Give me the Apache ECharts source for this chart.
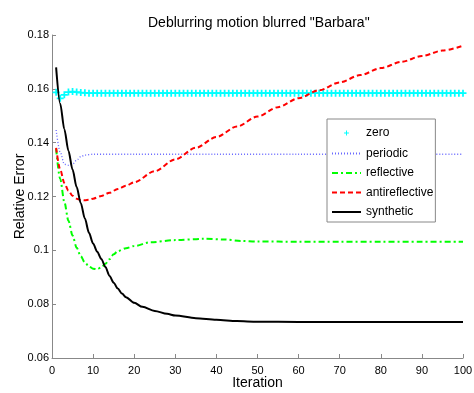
<!DOCTYPE html>
<html>
<head>
<meta charset="utf-8">
<script src="https://cdn.jsdelivr.net/npm/echarts@6/dist/echarts.min.js"></script>
<style>
html,body{margin:0;padding:0;background:#fff;}
#c{width:474px;height:393px;}
</style>
</head>
<body>
<div id="c"></div>
<script>
var titleText = 'Deblurring motion blurred "Barbara"';
var xTicks = [0, 10, 20, 30, 40, 50, 60, 70, 80, 90, 100];
var yTicks = [0.06, 0.08, 0.1, 0.12, 0.14, 0.16, 0.18];
var seriesNames = ['zero', 'periodic', 'reflective', 'antireflective', 'synthetic'];

// zero: one value per iteration 1..100
var zeroX = [];
for (var i = 1; i <= 100; i++) zeroX.push(i);
var zeroY = [0.1587, 0.1565, 0.1578, 0.1588, 0.1590, 0.1588, 0.1586, 0.1585, 0.1584, 0.1584,
  0.1584, 0.1584, 0.1584, 0.1584, 0.1584, 0.1584, 0.1584, 0.1584, 0.1584, 0.1584,
  0.1584, 0.1584, 0.1584, 0.1584, 0.1584, 0.1584, 0.1584, 0.1584, 0.1584, 0.1584,
  0.1584, 0.1584, 0.1584, 0.1584, 0.1584, 0.1584, 0.1584, 0.1584, 0.1584, 0.1584,
  0.1584, 0.1584, 0.1584, 0.1584, 0.1584, 0.1584, 0.1584, 0.1584, 0.1584, 0.1584,
  0.1584, 0.1584, 0.1584, 0.1584, 0.1584, 0.1584, 0.1584, 0.1584, 0.1584, 0.1584,
  0.1584, 0.1584, 0.1584, 0.1584, 0.1584, 0.1584, 0.1584, 0.1584, 0.1584, 0.1584,
  0.1584, 0.1584, 0.1584, 0.1584, 0.1584, 0.1584, 0.1584, 0.1584, 0.1584, 0.1584,
  0.1584, 0.1584, 0.1584, 0.1584, 0.1584, 0.1584, 0.1584, 0.1584, 0.1584, 0.1584,
  0.1584, 0.1584, 0.1584, 0.1584, 0.1584, 0.1584, 0.1584, 0.1584, 0.1584, 0.1584];

var periodicX = [1, 2, 3, 4, 5, 6, 7, 8, 10, 20, 40, 60, 80, 100];
var periodicY = [0.1447, 0.1365, 0.1320, 0.1316, 0.1320, 0.1335, 0.1348, 0.1354, 0.1357, 0.1357, 0.1357, 0.1357, 0.1357, 0.1357];

var reflectiveX = [1, 2, 3, 4, 5, 6, 7, 8, 9, 10, 11, 12, 13, 14, 15, 16, 18, 20, 24, 30, 37, 42, 46, 50, 60, 70, 80, 90, 100];
var reflectiveY = [0.1378, 0.1265, 0.1180, 0.1110, 0.1055, 0.1010, 0.0978, 0.0955, 0.0940, 0.0932, 0.0930, 0.0937, 0.0950, 0.0967, 0.0985, 0.0997, 0.1008, 0.1016, 0.1030, 0.1038, 0.1043, 0.1040, 0.1035, 0.1033, 0.1032, 0.1032, 0.1032, 0.1032, 0.1032];

var antiX = [1, 2, 3, 4, 5, 6, 7, 8, 9, 10, 12, 14, 16, 18, 20, 25, 30, 35, 40, 45, 50, 55, 60, 65, 70, 75, 80, 85, 90, 95, 100];
var antiY = [0.1381, 0.1300, 0.1250, 0.1222, 0.1203, 0.1192, 0.1187, 0.1186, 0.1188, 0.1192, 0.1202, 0.1214, 0.1228, 0.1240, 0.1253, 0.1294, 0.1338, 0.1381, 0.1421, 0.1460, 0.1497, 0.1532, 0.1565, 0.1595, 0.1624, 0.1651, 0.1677, 0.1700, 0.1722, 0.1742, 0.1760];

var syntheticX = [1, 2, 3, 4, 5, 6, 7, 8, 9, 10, 11, 12, 13, 14, 15, 16, 17, 18, 20, 22, 25, 28, 30, 35, 40, 45, 50, 60, 70, 80, 90, 100];
var syntheticY = [0.1680, 0.1545, 0.1450, 0.1370, 0.1300, 0.1235, 0.1175, 0.1118, 0.1065, 0.1025, 0.0995, 0.0968, 0.0938, 0.0905, 0.0880, 0.0858, 0.0840, 0.0826, 0.0805, 0.0790, 0.0775, 0.0764, 0.0758, 0.0748, 0.0742, 0.0737, 0.0735, 0.0734, 0.0734, 0.0734, 0.0734, 0.0734];

function pairs(xs, ys) { return xs.map(function (x, k) { return [x, ys[k]]; }); }

var FONT = 'Liberation Sans, Arial, Helvetica, sans-serif';
var plusPath = 'path://M3,0H5V3H8V5H5V8H3V5H0V3H3Z';
// small plus centred in a 20x20 box (tiny corner specks keep the box size)
var legendPlus = 'path://M0,0L0.01,0L0,0.01Z M20,20L19.99,20L20,19.99Z M9.3,6.5H10.7V9.3H13.5V10.7H10.7V13.5H9.3V10.7H6.5V9.3H9.3Z';

var chart = echarts.init(document.getElementById('c'), null, {renderer: 'canvas'});
chart.setOption({
  animation: false,
  backgroundColor: '#ffffff',
  textStyle: {fontFamily: FONT},
  title: {
    text: titleText, left: 143, top: 11,
    textStyle: {fontSize: 14, fontWeight: 'normal', color: '#000', fontFamily: FONT}
  },
  grid: {left: 52, right: 11, top: 35, bottom: 35, containLabel: false, outerBoundsMode: 'none'},
  legend: {
    orient: 'vertical', left: 327, top: 119,
    padding: [7, 2, 4, 4],
    itemWidth: 29, itemHeight: 14, itemGap: 7.5,
    backgroundColor: '#ffffff', borderColor: '#888888', borderWidth: 1, borderRadius: 0,
    textStyle: {fontSize: 12, color: '#000', fontFamily: FONT},
    data: [
      {name: 'zero', icon: legendPlus, itemStyle: {color: '#00ffff'}, lineStyle: {opacity: 0}},
      {name: 'periodic', itemStyle: {opacity: 0}},
      {name: 'reflective', itemStyle: {opacity: 0}},
      {name: 'antireflective', itemStyle: {opacity: 0}},
      {name: 'synthetic', itemStyle: {opacity: 0}}
    ]
  },
  xAxis: {
    type: 'value', min: xTicks[0], max: xTicks[xTicks.length - 1], interval: 10,
    name: 'Iteration', nameLocation: 'middle', nameGap: 18, nameMoveOverlap: false,
    nameTextStyle: {fontSize: 14, color: '#000', fontFamily: FONT},
    axisLine: {lineStyle: {color: '#888888', width: 1}},
    axisTick: {inside: true, length: 4, lineStyle: {color: '#888888'}},
    axisLabel: {fontSize: 11, color: '#000', margin: 7, fontFamily: FONT},
    splitLine: {show: false}
  },
  yAxis: {
    type: 'value', min: yTicks[0], max: yTicks[yTicks.length - 1], interval: 0.02,
    name: 'Relative Error', nameLocation: 'middle', nameGap: 25, nameMoveOverlap: false,
    nameTextStyle: {fontSize: 14, color: '#000', fontFamily: FONT},
    axisLine: {show: true, lineStyle: {color: '#888888', width: 1}},
    axisTick: {show: true, inside: true, length: 4, lineStyle: {color: '#888888'}},
    axisLabel: {fontSize: 11, color: '#000', margin: 3, fontFamily: FONT,
      formatter: function (v) { return String(+v.toFixed(2)); }},
    splitLine: {show: false}
  },
  series: [
    {
      name: seriesNames[0], type: 'line', data: pairs(zeroX, zeroY),
      symbol: plusPath, symbolSize: 7, showSymbol: true,
      itemStyle: {color: '#00ffff'},
      lineStyle: {opacity: 0, width: 0},
      z: 2
    },
    {
      name: seriesNames[1], type: 'line', data: pairs(periodicX, periodicY),
      symbol: 'none', smooth: 0.3, smoothMonotone: 'x',
      itemStyle: {color: '#6a6aff'},
      lineStyle: {color: '#6a6aff', width: 1.3, type: [1, 2]}
    },
    {
      name: seriesNames[2], type: 'line', data: pairs(reflectiveX, reflectiveY),
      symbol: 'none', smooth: 0.3, smoothMonotone: 'x',
      itemStyle: {color: '#00ff00'},
      lineStyle: {color: '#00ff00', width: 2, type: [6, 3, 2, 3]}
    },
    {
      name: seriesNames[3], type: 'line', data: pairs(antiX, antiY),
      symbol: 'none', smooth: 0.3, smoothMonotone: 'x',
      itemStyle: {color: '#ff0000'},
      lineStyle: {color: '#ff0000', width: 2, type: [5, 3]}
    },
    {
      name: seriesNames[4], type: 'line', data: pairs(syntheticX, syntheticY),
      symbol: 'none', smooth: 0.3, smoothMonotone: 'x',
      itemStyle: {color: '#000000'},
      lineStyle: {color: '#000000', width: 2}
    }
  ]
});
</script>
</body>
</html>
